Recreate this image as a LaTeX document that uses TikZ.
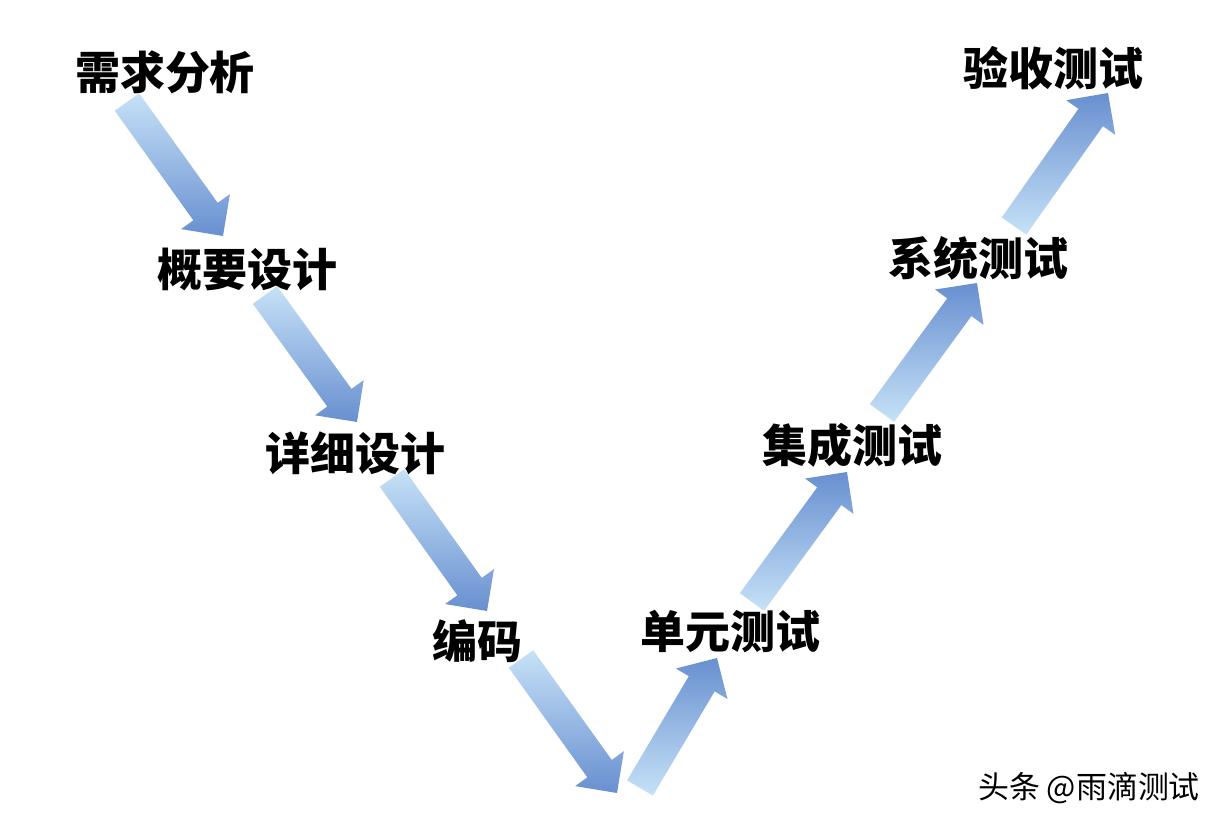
\documentclass[tikz,border=0pt]{standalone}
\usepackage{fontspec}
\newfontfamily\cjk{Noto Sans CJK SC}
\usetikzlibrary{calc}
\definecolor{vlight}{RGB}{198,226,247}
\definecolor{vdark}{RGB}{104,143,208}
\def\shaftw{0.375cm}
\def\headw{0.75cm}
\def\headl{0.75cm}
% block arrow: #1 tail, #2 tip, #3 shading style
\newcommand\vstep[3]{%
  \coordinate (vneck) at ($(#2)!\headl!(#1)$);
  \shade[#3] ($(#1)!\shaftw!90:(#2)$) -- ($(vneck)!\shaftw!90:(#2)$)
    -- ($(vneck)!\headw!90:(#2)$) -- (#2)
    -- ($(vneck)!\headw!-90:(#2)$) -- ($(vneck)!\shaftw!-90:(#2)$)
    -- ($(#1)!\shaftw!-90:(#2)$) -- cycle;
}
\begin{document}
\begin{tikzpicture}[x=0.025cm,y=-0.025cm,
  phase/.style={font=\cjk\bfseries\fontsize{32}{32}\selectfont,inner sep=0pt},
  down/.style={top color=vlight,bottom color=vdark},
  up/.style={bottom color=vlight,top color=vdark}]
 \useasboundingbox (0,0) rectangle (1223,827);
 % left branch
 \node[phase] (req) at (165,72) {需求分析};
 \node[phase] (hld) at (247,269) {概要设计};
 \node[phase] (dld) at (355,453) {详细设计};
 \node[phase] (code) at (477,641) {编码};
 % right branch
 \node[phase] (ut) at (730,632) {单元测试};
 \node[phase] (it) at (852,445) {集成测试};
 \node[phase] (st) at (978,258) {系统测试};
 \node[phase] (acc) at (1053,68) {验收测试};
 \node[font=\cjk\fontsize{22}{22}\selectfont,inner sep=0pt] (mark) at (1089,788) {头条 @雨滴测试};
 % arrow ends
 \coordinate (req-out) at ($(req)+(-38,30)$);
 \coordinate (hld-in) at ($(hld)+(-24,-33)$);
 \coordinate (hld-out) at ($(hld)+(18,26)$);
 \coordinate (dld-in) at ($(dld)+(2,-31)$);
 \coordinate (dld-out) at ($(dld)+(37,25)$);
 \coordinate (code-in) at ($(code)+(10,-30)$);
 \coordinate (code-out) at ($(code)+(44,18)$);
 \coordinate (bottom-l) at (617,793);
 \coordinate (bottom-r) at (640,788);
 \coordinate (ut-in) at ($(ut)+(-13,26)$);
 \coordinate (ut-out) at ($(ut)+(22,-30)$);
 \coordinate (it-in) at ($(it)+(-5,27)$);
 \coordinate (it-out) at ($(it)+(30,-32)$);
 \coordinate (st-in) at ($(st)+(-1,25)$);
 \coordinate (st-out) at ($(st)+(36,-32)$);
 \coordinate (acc-in) at ($(acc)+(55,25)$);
 % arrows
 \vstep{req-out}{hld-in}{down}
 \vstep{hld-out}{dld-in}{down}
 \vstep{dld-out}{code-in}{down}
 \vstep{code-out}{bottom-l}{down}
 \vstep{bottom-r}{ut-in}{up}
 \vstep{ut-out}{it-in}{up}
 \vstep{it-out}{st-in}{up}
 \vstep{st-out}{acc-in}{up}
\end{tikzpicture}
\end{document}
